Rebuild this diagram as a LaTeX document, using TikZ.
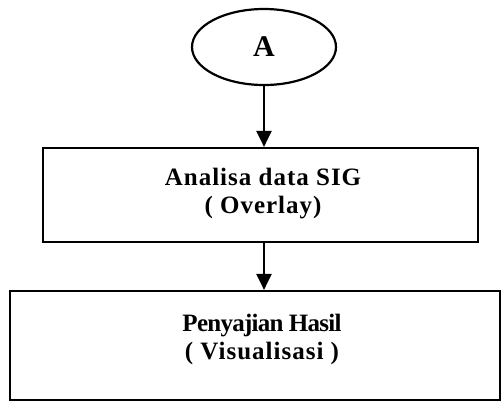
\documentclass[tikz,border=0pt]{standalone}
\usepackage{fontspec}
\setmainfont{Liberation Serif}
\newfontfamily\spacedserif[LetterSpace=4]{Liberation Serif}
\newfontfamily\tightserif[LetterSpace=-3]{Liberation Serif}
\usetikzlibrary{shapes.geometric,arrows.meta}
\begin{document}
\begin{tikzpicture}[x=1pt,y=-1pt,
  outline/.style={draw=black,line width=2.2pt},
  label/.style={font=\fontsize{25}{28}\selectfont\bfseries,align=center,inner sep=0pt},
  flow/.style={line width=2.2pt,-{Triangle[length=16pt,width=15pt]}}]
  \useasboundingbox (0,0) rectangle (503,408);
  % connector symbol
  \node[outline,ellipse,minimum width=144pt,minimum height=76pt,inner sep=0pt,
        font=\fontsize{30}{30}\selectfont\bfseries] (A) at (264,47) {A};
  % process boxes
  \node[outline,rectangle,minimum width=435pt,minimum height=94pt,inner sep=0pt] (box1) at (260.5,195) {};
  \node[label] (t1) at (263,194) {\spacedserif Analisa data SIG\\\spacedserif( Overlay)};
  \node[outline,rectangle,minimum width=490pt,minimum height=109pt,inner sep=0pt] (box2) at (255,345.5) {};
  \node[label] (t2) at (262,339) {\tightserif Penyajian Hasil\\\spacedserif( Visualisasi )};
  % flow arrows
  \draw[flow] (A.south) -- (A.south |- box1.north);
  \draw[flow] (A.south |- box1.south) -- (A.south |- box2.north);
\end{tikzpicture}
\end{document}
